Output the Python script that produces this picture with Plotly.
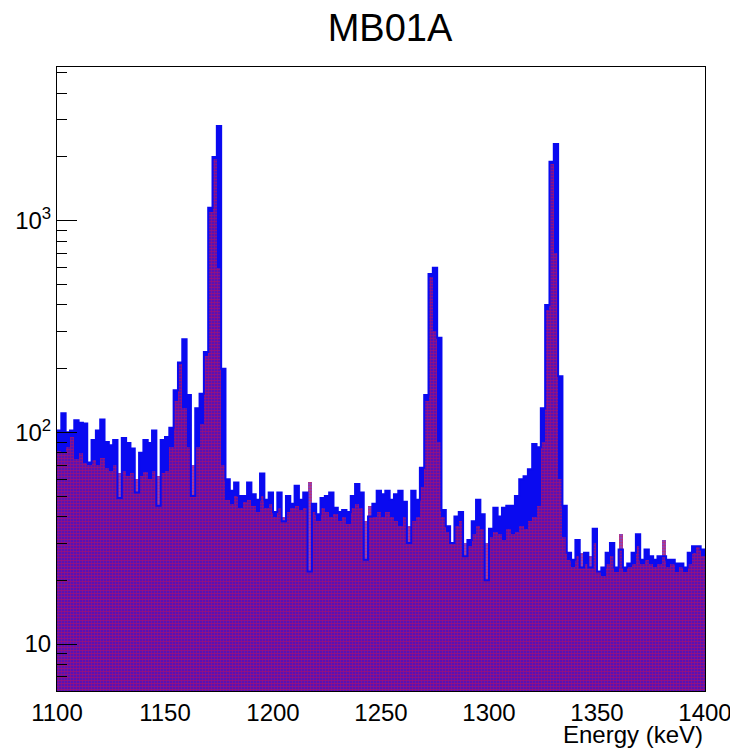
import numpy as np
import plotly.graph_objects as go

# ---- data: 2 keV bins from 1100 to 1400 keV ----
BIN_START = 1100
BIN_WIDTH = 2

blue_counts = [
    102, 123, 100, 102, 114, 111, 110, 72, 92, 102,
    115, 90, 87, 92, 49, 94, 89, 84, 52, 80,
    92, 89, 102, 45, 92, 95, 105, 158, 214, 275,
    150, 50, 130, 152, 240, 1150, 2000, 2800, 200, 60,
    53, 58, 50, 50, 58, 51, 48, 64, 48, 52,
    42, 52, 38, 50, 46, 56, 48, 52, 22, 46,
    41, 49, 50, 52, 44, 42, 43, 42, 50, 57,
    52, 25, 40, 46, 53, 51, 53, 48, 51, 53,
    47, 30, 53, 48, 68, 150, 560, 600, 280, 43,
    36, 30, 40, 42, 26, 31, 38, 48, 41, 20,
    35, 44, 40, 44, 45, 45, 50, 60, 62, 67,
    88, 85, 130, 400, 1900, 2300, 184, 45, 27, 25,
    31, 23, 27, 23, 35, 22, 23, 27, 30, 23,
    28, 23, 24, 27, 33, 25, 28, 26, 25, 26,
    26, 25, 25, 24, 24, 23, 27, 29, 29, 28,
]

red_counts = [
    82, 80, 85, 95, 75, 80, 72, 70, 74, 70,
    76, 68, 66, 70, 64, 66, 62, 64, 60, 62,
    65, 60, 66, 62, 64, 66, 85, 140, 210, 130,
    85, 70, 85, 110, 230, 1100, 1950, 600, 70, 48,
    46, 50, 44, 47, 48, 45, 42, 50, 44, 46,
    40, 44, 40, 42, 44, 45, 43, 44, 58, 42,
    38, 44, 42, 40, 41, 38, 40, 37, 44, 46,
    44, 38, 45, 40, 42, 40, 42, 40, 38, 36,
    40, 36, 38, 40, 55, 140, 540, 300, 90, 40,
    34, 30, 36, 38, 30, 29, 33, 36, 35, 30,
    32, 34, 33, 31, 35, 33, 34, 36, 35, 38,
    40, 45, 90, 380, 1850, 700, 60, 32, 25, 23,
    26, 27, 24, 26, 30, 22, 21, 24, 26, 22,
    33, 22, 23, 24, 29, 24, 25, 24, 23, 24,
    31, 23, 24, 22, 23, 22, 24, 27, 29, 26,
]

y_tick_vals = [10, 100, 1000]
y_tick_text = ["10", "10<sup>2</sup>", "10<sup>3</sup>"]
y_minor_vals = [7, 8, 9, 20, 30, 40, 50, 60, 70, 80, 90,
                200, 300, 400, 500, 600, 700, 800, 900, 2000, 3000, 4000, 5000]

TITLE = "MB01A"
X_TITLE = "Energy (keV)"

n = len(blue_counts)
edges = BIN_START + BIN_WIDTH * np.arange(n + 1)
centers = edges[:-1] + BIN_WIDTH / 2.0

BLUE = "#0a0af0"
RED = "#ff1020"
HATCH_BG = "rgba(70,20,200,0.75)"

fig = go.Figure()
fig.add_bar(x=centers, y=blue_counts, width=BIN_WIDTH,
            marker=dict(color=BLUE, line=dict(width=0)), hoverinfo="skip")
fig.add_bar(x=centers, y=red_counts, width=BIN_WIDTH,
            marker=dict(color=HATCH_BG, line=dict(width=0),
                        pattern=dict(shape=".", fgcolor=RED, bgcolor=HATCH_BG,
                                     size=3, solidity=0.65, fillmode="overlay")),
            hoverinfo="skip")
fig.add_scatter(x=edges, y=list(blue_counts) + [blue_counts[-1]], mode="lines",
                line=dict(color=BLUE, width=2, shape="hv"), hoverinfo="skip")

FONT = "Liberation Sans, Arial, Helvetica, sans-serif"

W, H = 730, 743
fig.update_layout(
    width=W, height=H,
    margin=dict(l=49, r=33, t=59, b=60, autoexpand=False),
    paper_bgcolor="white", plot_bgcolor="white",
    barmode="overlay", bargap=0,
    showlegend=False,
    font=dict(family=FONT, color="black", size=24),
    title=dict(text=TITLE, x=382 / W, xanchor="center", y=1 - 20 / H, yanchor="middle",
               font=dict(family=FONT, size=38, color="black")),
    annotations=[dict(text=X_TITLE, x=1.0, xref="paper", xanchor="right",
                      y=-0.0946, yref="paper", yanchor="bottom", showarrow=False,
                      font=dict(family=FONT, size=24, color="black"))],
)

fig.update_xaxes(
    range=[1100, 1400], showgrid=False, zeroline=False, automargin=False,
    showline=True, linecolor="black", linewidth=1, mirror=True,
    ticks="inside", ticklen=19, tickcolor="black", dtick=50, tick0=1100,
    minor=dict(ticks="inside", ticklen=10, dtick=10, tickcolor="black", showgrid=False),
    tickfont=dict(size=24), layer="below traces",
)
fig.update_yaxes(
    type="log", range=[np.log10(6.0), 3.726], showgrid=False, zeroline=False,
    automargin=False,
    showline=True, linecolor="black", linewidth=1, mirror=True,
    ticks="inside", ticklen=20, tickcolor="black",
    tickmode="array", tickvals=y_tick_vals, ticktext=y_tick_text,
    minor=dict(ticks="inside", ticklen=10, tickcolor="black", tickmode="array",
               tickvals=y_minor_vals, showgrid=False),
    tickfont=dict(size=24), layer="above traces",
)

fig.write_html("out.html")
